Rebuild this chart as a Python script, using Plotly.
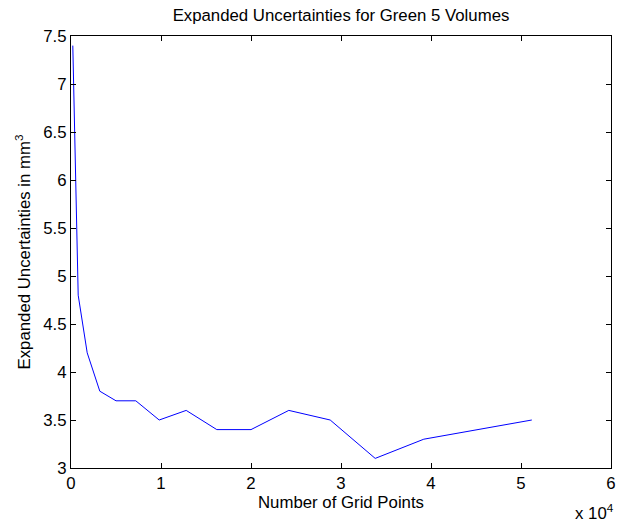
import plotly.graph_objects as go

# Grid sizes and expanded uncertainties of the Green 5 volume
grid_points = [200, 800, 1800, 3200, 5000, 7200, 9800, 12800, 16200,
               20000, 24200, 28800, 33800, 39200, 51200]
uncertainty = [7.4, 4.8, 4.2, 3.8, 3.7, 3.7, 3.5, 3.6, 3.4,
               3.4, 3.6, 3.5, 3.1, 3.3, 3.5]

x_tick_vals = [0, 10000, 20000, 30000, 40000, 50000, 60000]
x_tick_text = ["0", "1", "2", "3", "4", "5", "6"]
y_tick_vals = [3, 3.5, 4, 4.5, 5, 5.5, 6, 6.5, 7, 7.5]
y_tick_text = ["3", "3.5", "4", "4.5", "5", "5.5", "6", "6.5", "7", "7.5"]

font = dict(family="Liberation Sans, Arial, sans-serif", size=16.8, color="black")

fig = go.Figure(go.Scatter(
    x=grid_points, y=uncertainty, mode="lines",
    line=dict(color="rgb(0,0,255)", width=1), showlegend=False,
))

axis_common = dict(
    showline=True, linecolor="black", linewidth=1, mirror="ticks",
    ticks="inside", ticklen=5, tickcolor="black", tickwidth=1,
    showgrid=False, zeroline=False, tickfont=font,
)

fig.update_xaxes(range=[0, 60000], tickvals=x_tick_vals, ticktext=x_tick_text,
                 title=dict(text="Number of Grid Points", font=font, standoff=2),
                 **axis_common)
fig.update_yaxes(range=[3, 7.5], tickvals=y_tick_vals, ticktext=y_tick_text,
                 title=dict(text="Expanded Uncertainties in mm<sup>3</sup>", font=font, standoff=8),
                 **axis_common)

fig.update_layout(
    width=622, height=523,
    margin=dict(l=71, r=6, t=36, b=55),
    paper_bgcolor="white", plot_bgcolor="white",
    font=font,
    title=dict(text="Expanded Uncertainties for Green 5 Volumes",
               x=0.5, xref="paper", xanchor="center",
               y=1, yref="container", yanchor="top", pad=dict(t=9),
               font=font),
    annotations=[dict(text="x 10<sup>4</sup>", xref="paper", yref="paper",
                      x=1.0, y=0, xanchor="right", yanchor="top",
                      xshift=5, yshift=-31,
                      showarrow=False, font=font)],
)

fig.write_html("out.html")
